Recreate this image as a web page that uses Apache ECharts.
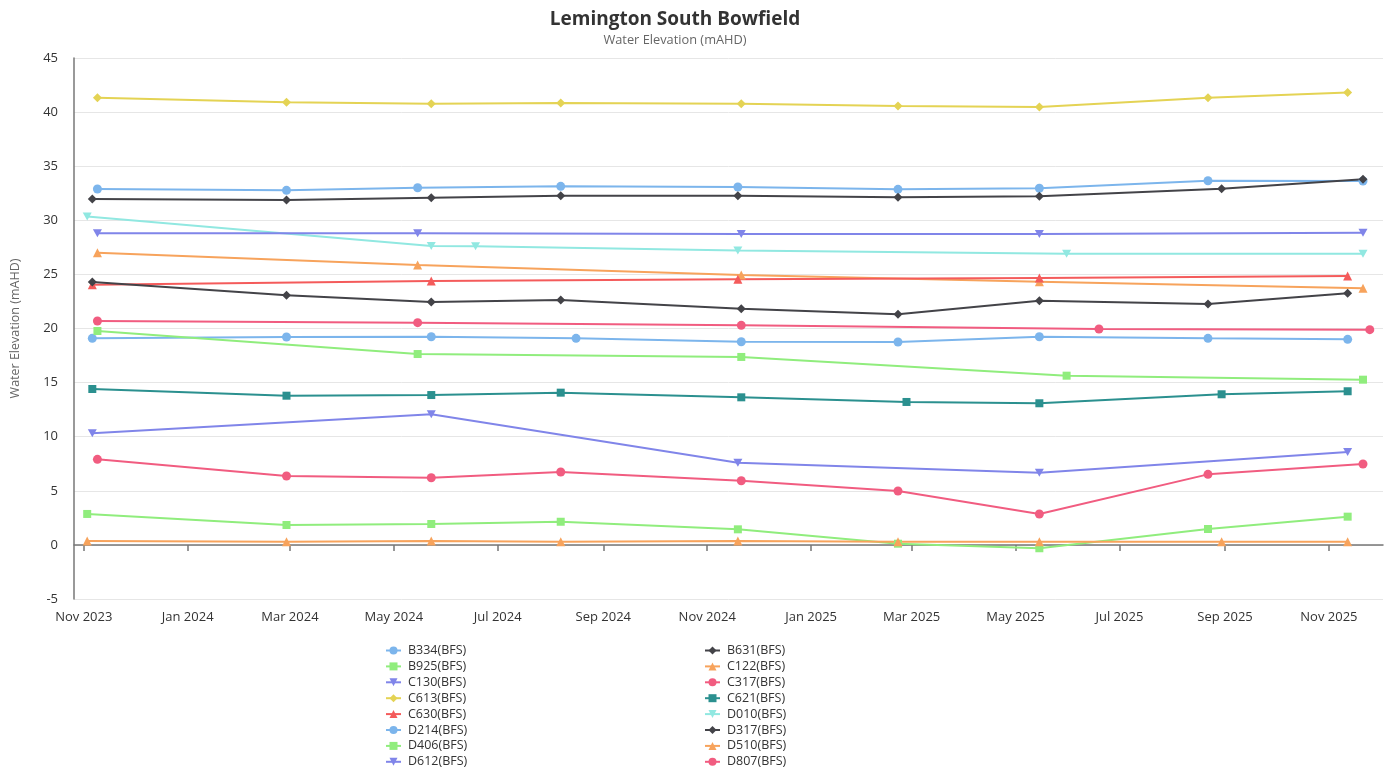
<!DOCTYPE html>
<html>
<head>
<meta charset="utf-8">
<script src="https://cdn.jsdelivr.net/npm/echarts@6/dist/echarts.min.js"></script>
<style>
html,body{margin:0;padding:0;background:#fff;}
#chart{width:1393px;height:771px;}
</style>
</head>
<body>
<div id="chart"></div>
<script>
// ---- data (date, water elevation mAHD) ----
const B334 = [['2023-11-09',32.89],['2024-02-28',32.77],['2024-05-15',33.01],['2024-08-07',33.14],['2024-11-19',33.08],['2025-02-21',32.86],['2025-05-15',32.96],['2025-08-22',33.66],['2025-11-21',33.63]];
const B631 = [['2023-11-06',31.97],['2024-02-28',31.88],['2024-05-23',32.09],['2024-08-07',32.27],['2024-11-19',32.27],['2025-02-21',32.12],['2025-05-15',32.22],['2025-08-30',32.92],['2025-11-21',33.79]];
const B925 = [['2023-11-03',2.86],['2024-02-28',1.84],['2024-05-23',1.93],['2024-08-07',2.14],['2024-11-19',1.44],['2025-02-21',0.11],['2025-05-15',-0.31],['2025-08-22',1.47],['2025-11-12',2.61]];
const C122 = [['2023-11-09',27.0],['2024-05-15',25.87],['2024-11-21',24.95],['2025-05-15',24.33],['2025-11-21',23.71]];
const C130 = [['2023-11-06',10.31],['2024-05-23',12.07],['2024-11-19',7.6],['2025-05-15',6.67],['2025-11-12',8.59]];
const C317 = [['2023-11-09',7.91],['2024-02-28',6.37],['2024-05-23',6.21],['2024-08-07',6.74],['2024-11-21',5.93],['2025-02-21',4.98],['2025-05-15',2.86],['2025-08-22',6.52],['2025-11-21',7.48]];
const C613 = [['2023-11-09',41.33],['2024-02-28',40.9],['2024-05-23',40.78],['2024-08-07',40.84],['2024-11-21',40.78],['2025-02-21',40.56],['2025-05-15',40.47],['2025-08-22',41.33],['2025-11-12',41.8]];
const C621 = [['2023-11-06',14.41],['2024-02-28',13.79],['2024-05-23',13.85],['2024-08-07',14.07],['2024-11-21',13.64],['2025-02-26',13.21],['2025-05-15',13.09],['2025-08-30',13.92],['2025-11-12',14.2]];
const C630 = [['2023-11-06',24.05],['2024-05-23',24.39],['2024-11-19',24.55],['2025-05-15',24.67],['2025-11-12',24.85]];
const D010 = [['2023-11-03',30.35],['2024-05-23',27.62],['2024-06-18',27.6],['2024-11-19',27.2],['2025-05-31',26.92],['2025-11-21',26.9]];
const D214 = [['2023-11-06',19.09],['2024-02-28',19.21],['2024-05-23',19.24],['2024-08-16',19.09],['2024-11-21',18.78],['2025-02-21',18.75],['2025-05-15',19.24],['2025-08-22',19.09],['2025-11-12',19.0]];
const D317 = [['2023-11-06',24.3],['2024-02-28',23.07],['2024-05-23',22.45],['2024-08-07',22.63],['2024-11-21',21.83],['2025-02-21',21.31],['2025-05-15',22.57],['2025-08-22',22.26],['2025-11-12',23.25]];
const D406 = [['2023-11-09',19.77],['2024-05-15',17.64],['2024-11-21',17.37],['2025-05-31',15.64],['2025-11-21',15.27]];
const D510 = [['2023-11-03',0.36],['2024-02-28',0.3],['2024-05-23',0.36],['2024-08-07',0.3],['2024-11-19',0.36],['2025-02-21',0.3],['2025-05-15',0.3],['2025-08-30',0.3],['2025-11-12',0.3]];
const D612 = [['2023-11-09',28.8],['2024-05-15',28.8],['2024-11-21',28.73],['2025-05-15',28.73],['2025-11-21',28.85]];
const D807 = [['2023-11-09',20.69],['2024-05-15',20.54],['2024-11-21',20.29],['2025-06-19',19.95],['2025-11-25',19.89]];

const seriesNames = ['B334(BFS)','B631(BFS)','B925(BFS)','C122(BFS)','C130(BFS)','C317(BFS)','C613(BFS)','C621(BFS)','C630(BFS)','D010(BFS)','D214(BFS)','D317(BFS)','D406(BFS)','D510(BFS)','D612(BFS)','D807(BFS)'];
const seriesData = [B334,B631,B925,C122,C130,C317,C613,C621,C630,D010,D214,D317,D406,D510,D612,D807];
const legendLeft = ['B334(BFS)','B925(BFS)','C130(BFS)','C613(BFS)','C630(BFS)','D214(BFS)','D406(BFS)','D612(BFS)'];
const legendRight = ['B631(BFS)','C122(BFS)','C317(BFS)','C621(BFS)','D010(BFS)','D317(BFS)','D510(BFS)','D807(BFS)'];
const yTicks = [-5,0,5,10,15,20,25,30,35,40,45];
const monthNames = ['Jan','Feb','Mar','Apr','May','Jun','Jul','Aug','Sep','Oct','Nov','Dec'];

// ---- styles ----
const palette = ['#7cb5ec','#434348','#90ed7d','#f7a35c','#8085e9','#f15c80','#e4d354','#2b908f','#f45b5b','#91e8e1'];
const triDown = 'path://M0,0 L10,0 L5,10 Z';
const symbols = ['circle','diamond','rect','triangle',triDown];
const symbolSizes = {circle:9, diamond:9, rect:8, triangle:9};
const FONT = 'Open Sans';

const series = seriesNames.map((name, i) => {
  const sym = symbols[i % symbols.length];
  return {
    name: name,
    type: 'line',
    data: seriesData[i],
    symbol: sym,
    symbolSize: sym === triDown ? [9,8] : symbolSizes[sym],
    showAllSymbol: true,
    lineStyle: {width: 2, color: palette[i % palette.length]},
    itemStyle: {color: palette[i % palette.length], borderWidth: 0},
    color: palette[i % palette.length],
    emphasis: {disabled: true}
  };
});

const legendCommon = {
  orient: 'vertical',
  top: 644,
  height: 300,
  padding: 0,
  itemWidth: 15,
  itemHeight: 10,
  itemGap: 2.9,
  textStyle: {fontFamily: FONT, fontSize: 12.5, color: '#333333', padding: [0,0,0,2]},
  selectedMode: false
};

const chart = echarts.init(document.getElementById('chart'), null, {renderer: 'canvas'});
chart.setOption({
  animation: false,
  backgroundColor: '#ffffff',
  title: {
    text: 'Lemington South Bowfield',
    subtext: 'Water Elevation (mAHD)',
    left: 670,
    textAlign: 'center',
    top: 5,
    itemGap: 5,
    textStyle: {fontFamily: FONT, fontSize: 19, fontWeight: 'bold', color: '#333333'},
    subtextStyle: {fontFamily: FONT, fontSize: 12.8, color: '#666666'}
  },
  legend: [
    Object.assign({}, legendCommon, {left: 385, data: legendLeft}),
    Object.assign({}, legendCommon, {left: 704, data: legendRight})
  ],
  grid: {left: 74, right: 10, top: 58, bottom: 172, containLabel: false},
  xAxis: {
    type: 'time',
    min: '2023-10-26T06:00:00',
    max: '2025-12-02T18:00:00',
    splitNumber: 12,
    axisLine: {lineStyle: {color: '#777777', width: 1.5}},
    axisTick: {show: true, length: 6, lineStyle: {color: '#777777', width: 1.5}},
    splitLine: {show: false},
    axisLabel: {
      fontFamily: FONT, fontSize: 13, color: '#333333', margin: 12,
      hideOverlap: false,
      formatter: function (v) { const d = new Date(v); return monthNames[d.getMonth()] + ' ' + d.getFullYear(); }
    }
  },
  yAxis: {
    type: 'value',
    min: yTicks[0],
    max: yTicks[yTicks.length - 1],
    interval: 5,
    name: 'Water Elevation (mAHD)',
    nameLocation: 'middle',
    nameRotate: 90,
    nameGap: 52,
    nameTextStyle: {fontFamily: FONT, fontSize: 12.5, color: '#666666'},
    axisLine: {show: true, lineStyle: {color: '#777777', width: 1.5}},
    axisTick: {show: false},
    splitLine: {lineStyle: {color: '#e6e6e6', width: 1}},
    axisLabel: {fontFamily: FONT, fontSize: 13, color: '#333333', margin: 16}
  },
  series: series
});
</script>
</body>
</html>
